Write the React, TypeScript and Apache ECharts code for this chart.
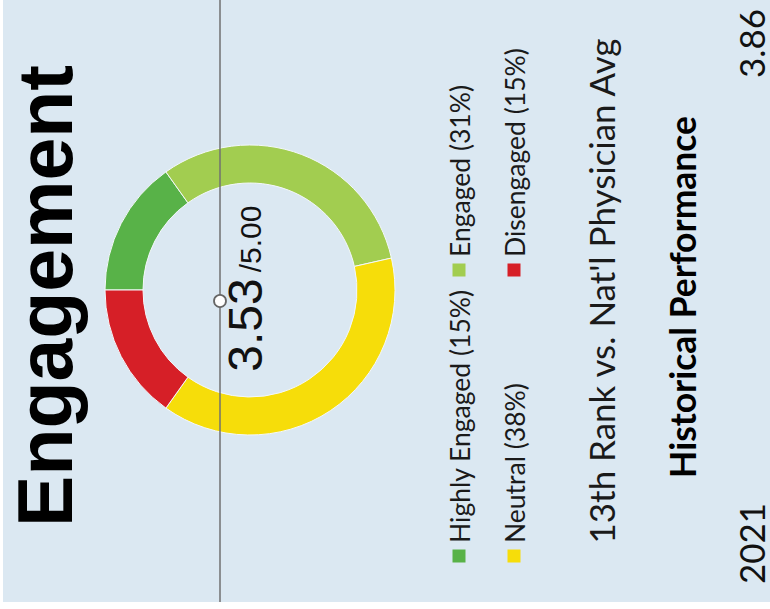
import { useEffect, useRef } from "react";
import * as echarts from "echarts";

// ---- data ----
const categories = ["Highly Engaged", "Engaged", "Neutral", "Disengaged"];
const shares = [15, 31, 38, 15];
const sliceColors = ["#58b248", "#a2cd50", "#f6dd0a", "#d61f27"];
const titleText = "Engagement";
const scoreText = "3.53";
const scoreMaxText = "/5.00";
const rankText = "13th Rank vs. Nat'l Physician Avg";
const historyTitle = "Historical Performance";
const historyYears = ["2021"];
const historyValues = ["3.86"];

// ---- layout (rotated frame: text reads bottom-to-top) ----
const BG = "#dbe8f2";
const ROT = Math.PI / 2;
const SANS = "'Liberation Sans', Arial, sans-serif";
const HUMAN = "Lato, 'Open Sans', sans-serif";

function fitSize(text: string, weight: string, family: string, target: number) {
  const ctx = document.createElement("canvas").getContext("2d");
  if (!ctx) return 20;
  ctx.font = `${weight} 100px ${family}`;
  const w = ctx.measureText(text).width;
  return w > 0 ? (100 * target) / w : 20;
}

function rotText(x: number, y: number, text: string, size: number, weight: string, family: string, align: string, fill = "#111", z = 5) {
  return {
    type: "text",
    x,
    y,
    rotation: ROT,
    z,
    silent: true,
    style: {
      x: 0,
      y: 0,
      text,
      fontSize: size,
      fontWeight: weight,
      fontFamily: family,
      fill,
      textAlign: align,
      align,
      textVerticalAlign: "middle",
      verticalAlign: "middle",
    },
  };
}

export default function App() {
  const ref = useRef<HTMLDivElement>(null);
  useEffect(() => {
    if (!ref.current) return;
    const chart = echarts.init(ref.current, undefined, { renderer: "svg" });

    const titleSize = fitSize(titleText, "bold", SANS, 462);
    const legendSize = fitSize(`${categories[0]} (${shares[0]}%)`, "normal", HUMAN, 254);
    const rankSize = fitSize(rankText, "normal", HUMAN, 507);
    const histSize = fitSize(historyTitle, "bold", HUMAN, 362);

    const legendRowsX = [460, 515];
    const legendColsY = [543, 257];
    const legendEls: any[] = [];
    categories.forEach((name, i) => {
      const rx = legendRowsX[Math.floor(i / 2)];
      const cy = legendColsY[i % 2];
      legendEls.push({
        type: "rect",
        silent: true,
        z: 5,
        shape: { x: rx - 7.5, y: cy + 6.5, width: 13, height: 13 },
        style: { fill: sliceColors[i] },
      });
      legendEls.push(rotText(rx, cy, `${name} (${shares[i]}%)`, legendSize, "normal", HUMAN, "left", "#1a1a1a"));
    });

    chart.setOption({
      animation: false,
      backgroundColor: "#ffffff",
      graphic: {
        elements: [
          { type: "rect", silent: true, z: -10, shape: { x: 3, y: 0, width: 767, height: 602 }, style: { fill: BG } },
          rotText(45, 296, titleText, titleSize, "bold", SANS, "center", "#000"),
          rotText(245, 325, scoreText, 48, "normal", SANS, "center", "#111"),
          rotText(250, 239, scoreMaxText, 30, "normal", SANS, "center", "#111"),
          ...legendEls,
          rotText(601, 291, rankText, rankSize, "normal", HUMAN, "center", "#1a1a1a"),
          rotText(682, 297, historyTitle, histSize, "bold", HUMAN, "center", "#000"),
          rotText(751, 584, historyYears[0], rankSize, "normal", HUMAN, "left", "#111"),
          rotText(751, 9, historyValues[0], rankSize, "normal", HUMAN, "right", "#111"),
          { type: "line", silent: true, z: 20, shape: { x1: 220, y1: 0, x2: 220, y2: 602 }, style: { stroke: "#707070", lineWidth: 1.5 } },
          { type: "circle", silent: true, z: 21, shape: { cx: 220, cy: 301, r: 6 }, style: { fill: "#ffffff", stroke: "#666666", lineWidth: 1.8 } },
        ],
      },
      series: [
        {
          type: "pie",
          center: [250, 290],
          radius: [107, 145],
          startAngle: 180,
          clockwise: true,
          silent: true,
          z: 2,
          label: { show: false },
          labelLine: { show: false },
          itemStyle: { borderColor: "#f4f8fb", borderWidth: 1 },
          data: categories.map((name, i) => ({ name, value: shares[i], itemStyle: { color: sliceColors[i] } })),
        },
      ],
    });
    return () => chart.dispose();
  }, []);
  return <div ref={ref} style={{ position: "absolute", left: 0, top: 0, width: 770, height: 609 }} />;
}
